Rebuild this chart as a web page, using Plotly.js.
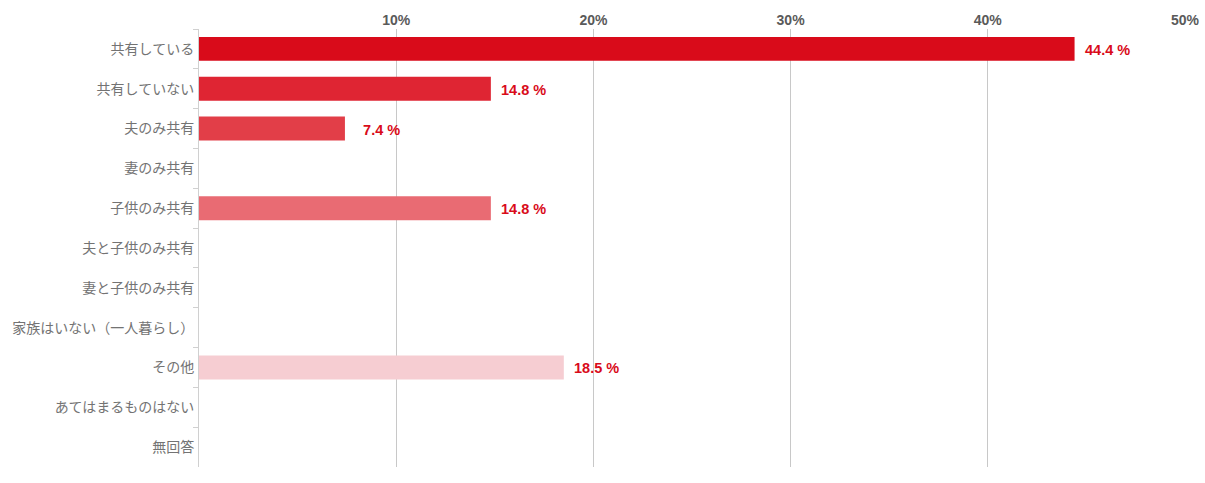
<!DOCTYPE html>
<html>
<head>
<meta charset="utf-8">
<script src="https://cdn.plot.ly/plotly-3.0.1.min.js"></script>
<style>html,body{margin:0;padding:0;background:#fff;}#chart{width:1205px;height:483px;}</style>
</head>
<body>
<div id="chart"></div>
<script>
const categories = ["共有している","共有していない","夫のみ共有","妻のみ共有","子供のみ共有","夫と子供のみ共有","妻と子供のみ共有","家族はいない（一人暮らし）","その他","あてはまるものはない","無回答"];
const values = [44.4, 14.8, 7.4, null, 14.8, null, null, null, 18.5, null, null];
const barColors = ["#D90B1A","#DF2533","#E23E48","#E45560","#E96B73","#EE8C93","#F1A5AB","#F4BCC1","#F6CDD2","#F8DADD","#FAE6E8"];
const tickVals = [10, 20, 30, 40, 50];
const tickText = ["10%", "20%", "30%", "40%", "50%"];

const trace = {
  type: "bar",
  orientation: "h",
  y: categories,
  x: values,
  width: 0.6,
  marker: {color: barColors},
  hoverinfo: "none"
};

const annotations = [];
values.forEach((v, i) => {
  if (v === null) return;
  const lab = (v < 10 ? "\u2007" : "") + v.toFixed(1) + " %";
  annotations.push({
    x: v, y: categories[i], xref: "x", yref: "y",
    text: lab, showarrow: false, xanchor: "left", yanchor: "middle",
    xshift: 8, yshift: -1,
    font: {family: "Liberation Sans, Arial, sans-serif", size: 14.5, color: "#D90B1A", weight: "bold"}
  });
});

const layout = {
  width: 1205, height: 483,
  margin: {l: 199, r: 20, t: 29, b: 16},
  paper_bgcolor: "#ffffff",
  plot_bgcolor: "#ffffff",
  showlegend: false,
  bargap: 0.4,
  xaxis: {
    side: "top",
    range: [0, 50],
    tickvals: tickVals,
    ticktext: tickText,
    showgrid: true,
    gridcolor: "#c8c8c8",
    gridwidth: 1,
    zeroline: false,
    showline: false,
    ticks: "",
    tickfont: {family: "Liberation Sans, Arial, sans-serif", size: 14, color: "#5a5a5a", weight: "bold"},
    fixedrange: true
  },
  yaxis: {
    autorange: "reversed",
    type: "category",
    showgrid: false,
    zeroline: false,
    showline: true,
    linecolor: "#d0d0d0",
    linewidth: 1,
    ticks: "outside",
    tickson: "boundaries",
    ticklen: 5,
    tickcolor: "#d0d0d0",
    ticklabelstandoff: 1,
    tickfont: {family: "Noto Sans CJK JP, sans-serif", size: 14, color: "#737373"},
    fixedrange: true
  },
  annotations: annotations
};

Plotly.newPlot("chart", [trace], layout, {displayModeBar: false, staticPlot: true});
</script>
</body>
</html>
